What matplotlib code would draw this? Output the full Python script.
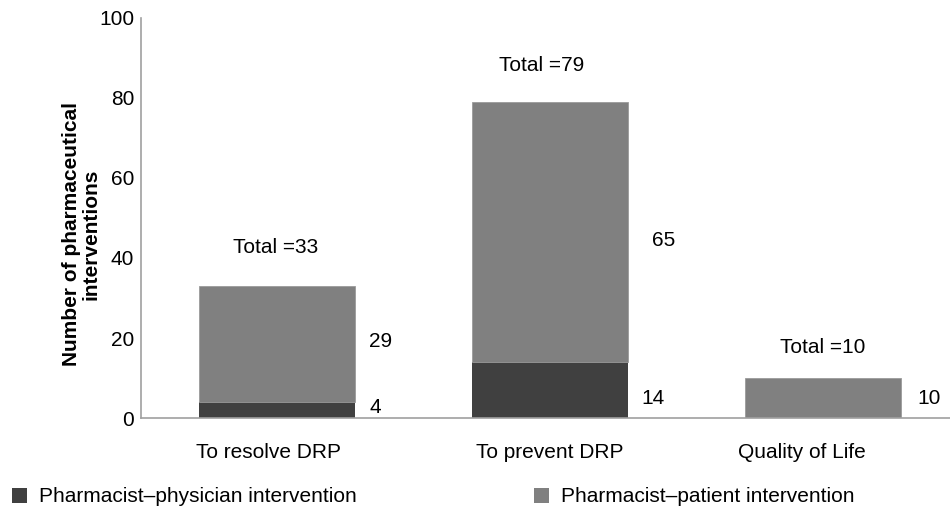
import matplotlib
matplotlib.use("Agg")
import matplotlib.pyplot as plt
from matplotlib.patches import Patch
from matplotlib.transforms import ScaledTranslation

plt.rcParams['font.family'] = ['Liberation Sans', 'DejaVu Sans']

categories = ["To resolve DRP", "To prevent DRP", "Quality of Life"]
physician = [4, 14, 0]
patient = [29, 65, 10]
totals = [33, 79, 10]
series_names = ["Pharmacist\u2013physician intervention", "Pharmacist\u2013patient intervention"]
dark = "#404040"
light = "#808080"

# layout nudges (points)
total_offsets = [(-1, 28), (-6, 26), (0, 22)]
phys_nudge = [(10, 2), (10, -6), (0, 0)]
pat_nudge = [(10, 2), (17, -6), (12, 0)]
tick_nudge_px = [-9, 0, -21]

FS = 15
fig = plt.figure(figsize=(9.5, 5.08), dpi=100)
ax = fig.add_axes([141/950, 1-418/508, (959-141)/950, 400/508])

x = list(range(len(categories)))
w = 0.572
ax.bar(x, physician, width=w, color=dark, edgecolor='none')
ax.bar(x, patient, width=w, bottom=physician, color=light, edgecolor='#9a9a9a', linewidth=0.6)

for i in x:
    xr = i + w/2
    if physician[i] > 0:
        ax.annotate(str(physician[i]), (xr, physician[i]/2), xytext=phys_nudge[i],
                    textcoords='offset points', ha='left', va='center', fontsize=FS)
    ax.annotate(str(patient[i]), (xr, physician[i] + patient[i]/2), xytext=pat_nudge[i],
                textcoords='offset points', ha='left', va='center', fontsize=FS)
    ax.annotate(f"Total ={totals[i]}", (i, totals[i]), xytext=total_offsets[i], textcoords='offset points',
                ha='center', va='center', fontsize=FS)

ax.set_xlim(-0.5, 2.5)
ax.set_ylim(0, 100)
ax.set_yticks([0, 20, 40, 60, 80, 100])
ax.set_xticks(x)
ax.set_xticklabels(categories, fontsize=FS)
ax.tick_params(axis='y', length=0, pad=5, labelsize=FS)
ax.tick_params(axis='x', length=0, pad=18)
for lbl, dx in zip(ax.get_xticklabels(), tick_nudge_px):
    lbl.set_transform(lbl.get_transform() + ScaledTranslation(dx/100, 0, fig.dpi_scale_trans))
for s in ['top', 'right']:
    ax.spines[s].set_visible(False)
for s in ['left', 'bottom']:
    ax.spines[s].set_color('#a0a0a0')
    ax.spines[s].set_linewidth(1.2)
ax.set_ylabel("Number of pharmaceutical\ninterventions", fontsize=FS, fontweight='bold',
              linespacing=1.0)
ax.yaxis.set_label_coords(-0.050, 0.46)

h1 = Patch(facecolor=dark, edgecolor='none')
h2 = Patch(facecolor=light, edgecolor='none')
common = dict(loc='center left', frameon=False, fontsize=FS, handlelength=0.72, handleheight=0.72,
              handletextpad=0.58, borderaxespad=0, borderpad=0)
fig.legend([h1], [series_names[0]], bbox_to_anchor=(12/950, 1-497/508), **common)
fig.legend([h2], [series_names[1]], bbox_to_anchor=(534/950, 1-497/508), **common)

fig.savefig("out.png", dpi=100)
